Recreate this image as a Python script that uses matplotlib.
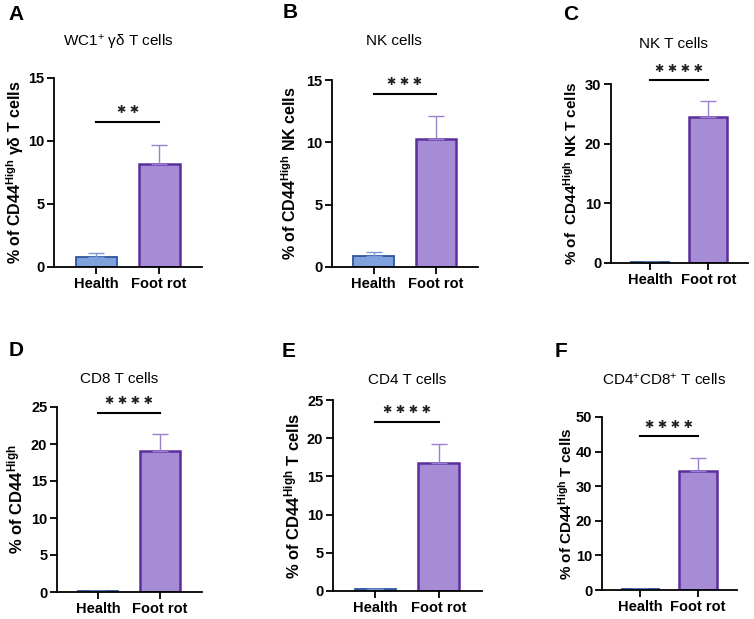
import matplotlib.pyplot as plt

plt.rcParams['font.family'] = ['Liberation Sans', 'DejaVu Sans']
plt.rcParams['mathtext.fontset'] = 'custom'
plt.rcParams['mathtext.rm'] = 'Liberation Sans'
plt.rcParams['mathtext.bf'] = 'Liberation Sans:bold'
plt.rcParams['mathtext.default'] = 'regular'

# data
groups = ["Health", "Foot rot"]
letters = ["A", "B", "C", "D", "E", "F"]
titles = ["WC1$^{+}$ γδ T cells", "NK cells", "NK T cells",
          "CD8 T cells", "CD4 T cells", "CD4$^{+}$CD8$^{+}$ T cells"]
ylabels = [r"% of CD44$^{\mathbf{High}}$ γδ T cells",
           r"% of CD44$^{\mathbf{High}}$ NK cells",
           r"% of  CD44$^{\mathbf{High}}$ NK T cells",
           r"% of CD44$^{\mathbf{High}}$",
           r"% of CD44$^{\mathbf{High}}$ T cells",
           r"% of CD44$^{\mathbf{High}}$ T cells"]
health_mean = [0.8, 0.9, 0.2, 0.1, 0.2, 0.3]
health_err = [0.35, 0.3, 0.05, 0.05, 0.05, 0.1]
footrot_mean = [8.2, 10.3, 24.4, 19.1, 16.7, 34.4]
footrot_err = [1.45, 1.8, 2.8, 2.2, 2.5, 3.8]
ymax = [15, 15, 30, 25, 25, 50]
ystep = [5, 5, 10, 5, 5, 10]
nstars = [2, 3, 4, 4, 4, 4]
sig_y = [11.5, 13.9, 30.7, 24.2, 22.1, 44.4]

# layout in pixels: (x0, x1, ytop, ybottom)
boxes = [(54, 202, 78, 267), (332, 478, 80, 267), (611, 748, 84, 263),
         (57, 202, 407, 592), (333, 482, 400, 591), (602, 737, 417, 590)]
letter_pos = [(8, 20), (283, 18), (563, 20), (9, 356), (282, 357), (555, 357)]
title_pos = [(118, 47), (394, 45), (673, 48), (119, 383), (407, 384), (664, 385)]
ylab_x = [15, 290, 571, 15, 292, 566]
ylab_size = [11.5, 11.5, 11, 12, 12, 11]

W, H = 754, 619
fig = plt.figure(figsize=(W / 100, H / 100), dpi=100)

h_fill, h_edge = "#7ea3dc", "#2e55a0"
f_fill, f_edge = "#a68bd5", "#5b2e9e"
f_err = "#9b80d0"
h_err_c = "#7a9ad6"

for i in range(6):
    x0, x1, yt, yb = boxes[i]
    ax = fig.add_axes([x0 / W, 1 - yb / H, (x1 - x0) / W, (yb - yt) / H])
    ax.bar([0], [health_mean[i]], width=0.65, color=h_fill, edgecolor=h_edge, linewidth=1.3)
    ax.bar([1], [footrot_mean[i]], width=0.65, color=f_fill, edgecolor=f_edge, linewidth=1.8)
    ax.errorbar([0], [health_mean[i]], yerr=[[0], [health_err[i]]], fmt="none",
                ecolor=h_err_c, elinewidth=1, capsize=6, capthick=1)
    ax.errorbar([1], [footrot_mean[i]], yerr=[[0], [footrot_err[i]]], fmt="none",
                ecolor=f_err, elinewidth=1, capsize=6, capthick=1)
    ax.set_xlim(-0.67, 1.68)
    ax.set_ylim(0, ymax[i])
    ax.set_yticks(range(0, ymax[i] + 1, ystep[i]))
    ax.set_xticks([0, 1])
    ax.set_xticklabels(groups)
    for s in ["top", "right"]:
        ax.spines[s].set_visible(False)
    for s in ["left", "bottom"]:
        ax.spines[s].set_linewidth(1.3)
    ax.tick_params(width=1.3, length=5, pad=2)
    for lab in ax.get_xticklabels():
        lab.set_fontweight("bold")
        lab.set_fontsize(10.5)
    for lab in ax.get_yticklabels():
        lab.set_fontweight("bold")
        lab.set_fontsize(10.5)
    # significance bar
    ax.plot([0, 1], [sig_y[i], sig_y[i]], color="black", lw=1.5, clip_on=False)
    ax.text(0.5, sig_y[i] + ymax[i] * 0.035, " ".join(["✱"] * nstars[i]), ha="center",
            va="bottom", fontsize=8, family="DejaVu Sans", color="#222222", clip_on=False)
    fig.text(ylab_x[i] / W, 1 - (yt + yb) / 2 / H, ylabels[i], rotation=90,
             ha="center", va="center", fontsize=ylab_size[i], fontweight="bold")
    fig.text(title_pos[i][0] / W, 1 - title_pos[i][1] / H, titles[i],
             ha="center", va="baseline", fontsize=11)
    fig.text(letter_pos[i][0] / W, 1 - letter_pos[i][1] / H, letters[i],
             ha="left", va="baseline", fontsize=15, fontweight="bold")

fig.savefig("out.png", dpi=100)
